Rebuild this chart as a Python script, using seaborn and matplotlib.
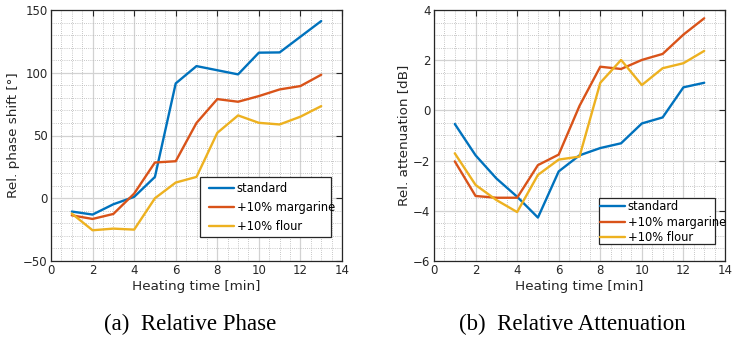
import numpy as np
import pandas as pd
import seaborn as sns
import matplotlib
matplotlib.use("Agg")
import matplotlib.pyplot as plt
from matplotlib.ticker import MultipleLocator
from matplotlib.patches import Rectangle

time_min = [1, 2, 3, 4, 5, 6, 7, 8, 9, 10, 11, 12, 13]
series_names = ["standard", "+10% margarine", "+10% flour"]

phase_standard = [-10.6, -13.0, -4.8, 1.1, 17.0, 91.5, 105.3, 102.0, 98.7, 116.0, 116.2, 128.7, 141.2]
phase_margarine = [-13.6, -16.5, -12.5, 3.7, 28.5, 29.5, 60.0, 79.0, 76.9, 81.4, 86.7, 89.4, 98.4]
phase_flour = [-12.2, -25.5, -24.2, -25.0, 0.0, 12.5, 17.0, 52.1, 66.0, 60.1, 58.8, 65.0, 73.4]

att_standard = [-0.54, -1.79, -2.71, -3.44, -4.27, -2.43, -1.79, -1.50, -1.31, -0.52, -0.28, 0.92, 1.10]
att_margarine = [-2.03, -3.41, -3.48, -3.48, -2.18, -1.76, 0.18, 1.74, 1.65, 2.01, 2.25, 3.02, 3.67]
att_flour = [-1.71, -2.97, -3.57, -4.05, -2.57, -1.96, -1.84, 1.10, 2.01, 1.01, 1.68, 1.88, 2.37]

colors = ["#0072BD", "#D95319", "#EDB120"]

def make_df(vals):
    rows = []
    for name, v in zip(series_names, vals):
        for t, y in zip(time_min, v):
            rows.append({"time": t, "value": y, "series": name})
    return pd.DataFrame(rows)

df_phase = make_df([phase_standard, phase_margarine, phase_flour])
df_att = make_df([att_standard, att_margarine, att_flour])

sns.set_theme(style="white")
plt.rcParams['font.family'] = ['DejaVu Sans']

W, H = 734, 337
fig = plt.figure(figsize=(W / 100, H / 100), dpi=100)
ax1 = fig.add_axes([51 / W, 76 / H, 291 / W, 251 / H])
ax2 = fig.add_axes([434 / W, 76 / H, 291 / W, 251 / H])

dark = "#262626"

def style(ax, ylim, ymajor, yminor, ylabel):
    ax.set_xlim(0, 14)
    ax.set_ylim(*ylim)
    ax.xaxis.set_major_locator(MultipleLocator(2))
    ax.xaxis.set_minor_locator(MultipleLocator(0.5))
    ax.yaxis.set_major_locator(MultipleLocator(ymajor))
    ax.yaxis.set_minor_locator(MultipleLocator(yminor))
    ax.grid(True, which="major", color="#d2d2d2", linewidth=0.9, linestyle="-")
    ax.grid(True, which="minor", color="#b4b4b4", linewidth=0.6, linestyle=(0, (1, 1.6)))
    ax.set_axisbelow(True)
    ax.tick_params(which="both", direction="in", top=True, right=True,
                   colors=dark, labelsize=8.5, labelcolor=dark)
    ax.tick_params(which="major", length=4, width=0.8, pad=2.5)
    ax.tick_params(which="minor", length=0)
    for sp in ax.spines.values():
        sp.set_color(dark)
        sp.set_linewidth(0.9)
    ax.set_xlabel("Heating time [min]", fontsize=9.7, color=dark, labelpad=2)
    ax.set_ylabel(ylabel, fontsize=9.7, color=dark, labelpad=2)

sns.lineplot(data=df_phase, x="time", y="value", hue="series", palette=colors,
             linewidth=1.7, ax=ax1, legend=True)
sns.lineplot(data=df_att, x="time", y="value", hue="series", palette=colors,
             linewidth=1.7, ax=ax2, legend=True)

style(ax1, (-50, 150), 50, 10, "Rel. phase shift [°]")
style(ax2, (-6, 4), 2, 0.5, "Rel. attenuation [dB]")

# legend: (axis, box x0, box y0, box x1, box y1, handle start x, first entry top y, labelspacing)
legend_specs = [
    (ax1, 200, 177, 331, 237, 209, 182.5, 0.5),
    (ax2, 599, 198, 715, 244, 600, 200.5, 0.18),
]
for ax, bx0, by0, bx1, by1, hx, ty, ls in legend_specs:
    leg = ax.legend(loc="upper left", bbox_to_anchor=(hx / W, 1 - ty / H),
                    bbox_transform=fig.transFigure, fontsize=8.3,
                    frameon=False, handlelength=2.15, handletextpad=0.25,
                    borderpad=0, labelspacing=ls, borderaxespad=0)
    for t in leg.get_texts():
        t.set_color("black")
    for h in leg.get_lines():
        h.set_linewidth(1.7)
    rect = Rectangle((bx0 / W, 1 - by1 / H), (bx1 - bx0) / W, (by1 - by0) / H,
                     transform=fig.transFigure, facecolor="white", edgecolor=dark,
                     linewidth=0.9, zorder=4)
    ax.add_artist(rect)
    rect.set_clip_on(False)
    leg.set_zorder(5)

fig.text(190 / W, 1 - 330 / H, "(a)  Relative Phase", ha="center", va="baseline",
         fontsize=16.5, family="Liberation Serif", color="black")
fig.text(572 / W, 1 - 330 / H, "(b)  Relative Attenuation", ha="center", va="baseline",
         fontsize=16.5, family="Liberation Serif", color="black")

fig.savefig("out.png", dpi=100)
